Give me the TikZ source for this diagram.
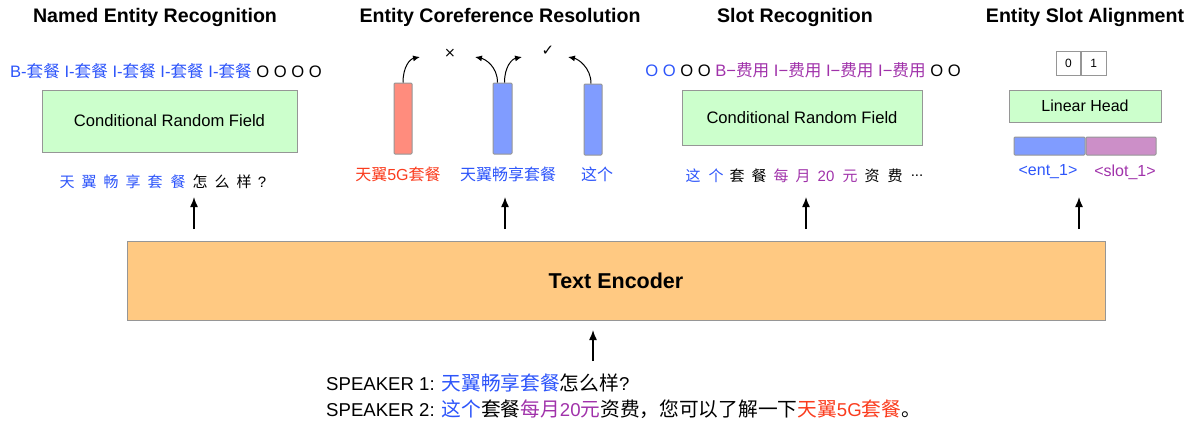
\documentclass[tikz,border=0pt]{standalone}
\usepackage{fontspec}
\setmainfont{Liberation Sans}
\newfontfamily\cjk{Noto Sans CJK SC}
\newfontfamily\cjkb[Scale=1.06]{Noto Sans CJK SC}
\newfontfamily\symf{DejaVu Sans}
\usetikzlibrary{arrows.meta}
\definecolor{blueT}{RGB}{45,85,250}
\definecolor{redT}{RGB}{250,60,30}
\definecolor{purpleT}{RGB}{160,50,170}
\definecolor{gfill}{RGB}{204,255,204}
\definecolor{bord}{RGB}{150,150,150}
\definecolor{ofill}{RGB}{255,201,130}
\definecolor{redbar}{RGB}{255,140,125}
\definecolor{bluebar}{RGB}{128,156,255}
\definecolor{purplebar}{RGB}{204,143,200}
\newcommand{\zh}[1]{{\cjk #1}}
\newcommand{\zb}[1]{{\cjkb #1}}
\begin{document}
\begin{tikzpicture}[x=1pt,y=-1pt,
  title/.style={font=\fontsize{19.6}{22}\selectfont\bfseries, inner sep=0pt},
  txt/.style={font=\fontsize{16}{19}\selectfont, inner sep=0pt},
  tag/.style={font=\fontsize{16.6}{19}\selectfont, inner sep=0pt},
  spk/.style={font=\fontsize{18.6}{22}\selectfont, inner sep=0pt},
  tok/.style={font=\fontsize{15}{18}\selectfont, inner sep=0pt},
  crf/.style={draw=bord, fill=gfill, line width=1pt, font=\fontsize{16.6}{19}\selectfont},
  enc/.style={draw=bord, fill=ofill, line width=1pt, font=\fontsize{21.5}{25}\selectfont\bfseries},
  bar/.style={draw=bord, line width=1pt, rounded corners=1pt, inner sep=0pt},
  cell/.style={draw=bord, fill=white, line width=0.8pt, inner sep=0pt, font=\fontsize{12}{14}\selectfont},
  up/.style={-{Latex[length=10pt,width=8pt]}, line width=1.4pt},
  cur/.style={-{Latex[length=7pt,width=6pt]}, line width=1pt}]
\useasboundingbox (0,0) rectangle (1193,421);

% titles
\node[title] (t1) at (155,17) {Named Entity Recognition};
\node[title] (t2) at (500,17) {Entity Coreference Resolution};
\node[title] (t3) at (795,17) {Slot Recognition};
\node[title] (t4) at (1085,17) {Entity Slot Alignment};

% ---- NER ----
\node[tag] (nertag) at (166,71) {\color{blueT}B-\zh{套餐} I-\zh{套餐} I-\zh{套餐} I-\zh{套餐} I-\zh{套餐} \color{black}O O O O};
\node[crf, minimum width=255pt, minimum height=62pt] (crf1) at (169.5,121) {Conditional Random Field};
\foreach \c/\col/\x [count=\i] in {天/blueT/67,翼/blueT/89,畅/blueT/111,享/blueT/133,套/blueT/155,餐/blueT/178,怎/black/200,么/black/222,样/black/244}
  \node[tok, text=\col] (nt\i) at (\x,182) {\zh{\c}};
\node[tok] (ntq) at (262,182) {?};

% ---- Coreference ----
\node[bar, fill=redbar, minimum width=18pt, minimum height=71pt] (b1) at (403,118.5) {};
\node[bar, fill=bluebar, minimum width=19pt, minimum height=71pt] (b2) at (502.5,118.5) {};
\node[bar, fill=bluebar, minimum width=18pt, minimum height=71pt] (b3) at (593,119.5) {};
\node[txt, text=redT] (l1) at (398,174) {\zh{天翼}5G\zh{套餐}};
\node[txt, text=blueT] (l2) at (508,174) {\zh{天翼畅享套餐}};
\node[txt, text=blueT] (l3) at (597,174) {\zh{这个}};
\coordinate (c1) at (420,57);
\coordinate (c2) at (475,57);
\coordinate (c3) at (522,57);
\coordinate (c4) at (568,57);
\draw[cur] ([xshift=0pt]b1.north) .. controls +(0,-16) and +(-10,2) .. (c1);
\draw[cur] ([xshift=-5pt]b2.north) .. controls +(0,-16) and +(10,2) .. (c2);
\draw[cur] ([xshift=2pt]b2.north) .. controls +(0,-16) and +(-10,2) .. (c3);
\draw[cur] ([xshift=-2pt]b3.north) .. controls +(0,-16) and +(10,2) .. (c4);
\node[font=\symf\fontsize{14}{16}\selectfont, inner sep=0pt] (xm) at (450,53) {×};
\node[font=\symf\fontsize{15}{17}\selectfont, inner sep=0pt] (ck) at (548,51) {✓};

% ---- Slot recognition ----
\node[tag] (slottag) at (803,70) {\color{blueT}O O \color{black}O O \color{purpleT}B−\zh{费用} I−\zh{费用} I−\zh{费用} I−\zh{费用} \color{black}O O};
\node[crf, minimum width=240pt, minimum height=55pt] (crf2) at (802,117.5) {Conditional Random Field};
\foreach \c/\col/\x [count=\i] in {这/blueT/693,个/blueT/716,套/black/737,餐/black/759,每/purpleT/781,月/purpleT/803,元/purpleT/850,资/black/872,费/black/895}
  \node[tok, text=\col] (st\i) at (\x,176) {\zh{\c}};
\node[tok, text=purpleT] (st20) at (826,176) {20};
\node[tok] (stdots) at (917,176) {...};

% ---- Entity slot alignment ----
\node[cell, minimum width=24.5pt, minimum height=24pt] (z0) at (1068.5,63) {0};
\node[cell, minimum width=24.5pt, minimum height=24pt, anchor=west] (z1) at (z0.east) {1};
\node[crf, font=\fontsize{16}{19}\selectfont, minimum width=152pt, minimum height=32pt] (lin) at (1085,106) {Linear Head};
\node[bar, fill=bluebar, minimum width=71pt, minimum height=18pt] (eb) at (1049.5,146) {};
\node[bar, fill=purplebar, minimum width=70pt, minimum height=18pt, anchor=west] (sb) at (eb.east) {};
\node[txt, text=blueT] (le) at (1048,172) {<ent\_1>};
\node[txt, text=purpleT] (ls) at (1125,172) {<slot\_1>};

% ---- Encoder ----
\node[enc, minimum width=978pt, minimum height=79pt] (enc) at (616,280.5) {Text Encoder};
\foreach \x [count=\i] in {194,505,806,1079}{
  \coordinate (s\i) at (\x,229);
  \coordinate (e\i) at (\x,197);
  \draw[up] (s\i) -- (e\i);
}
\coordinate (is) at (593,361);
\coordinate (ie) at (593,330);
\draw[up] (is) -- (ie);

% ---- dialogue ----
\node[spk, anchor=west] (sp1) at (326,383) {SPEAKER 1: \textcolor{blueT}{\zb{天翼畅享套餐}}\zb{怎么样}?};
\node[spk, anchor=west] (sp2) at (326,409) {SPEAKER 2: \textcolor{blueT}{\zb{这个}}\zb{套餐}\textcolor{purpleT}{\zb{每月}20\zb{元}}\zb{资费，您可以了解一下}\textcolor{redT}{\zb{天翼}5G\zb{套餐}}\zb{。}};
\end{tikzpicture}
\end{document}
